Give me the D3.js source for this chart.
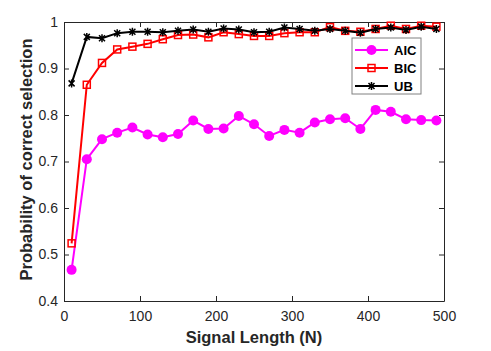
<!DOCTYPE html>
<html>
<head>
<meta charset="utf-8">
<script src="https://cdn.jsdelivr.net/npm/d3@7"></script>
<style>
  body { margin: 0; background: #fff; }
  svg { font-family: "Liberation Sans", Arial, sans-serif; }
</style>
</head>
<body>
<div id="chart"></div>
<script>
// signal lengths and selection probabilities per criterion
const signalLength = [10, 30, 50, 70, 90, 110, 130, 150, 170, 190, 210, 230, 250,
  270, 290, 310, 330, 350, 370, 390, 410, 430, 450, 470, 490];
const aic = [0.467, 0.705, 0.748, 0.762, 0.773, 0.758, 0.752, 0.759, 0.788, 0.770,
  0.771, 0.798, 0.780, 0.755, 0.768, 0.762, 0.784, 0.791, 0.793, 0.770, 0.811,
  0.807, 0.791, 0.789, 0.788];
const bic = [0.524, 0.865, 0.912, 0.941, 0.947, 0.953, 0.963, 0.972, 0.973, 0.967,
  0.978, 0.974, 0.970, 0.970, 0.976, 0.978, 0.978, 0.989, 0.981, 0.979, 0.985,
  0.992, 0.985, 0.992, 0.990];
const ub = [0.868, 0.968, 0.965, 0.976, 0.979, 0.979, 0.978, 0.981, 0.984, 0.979,
  0.986, 0.984, 0.978, 0.979, 0.988, 0.985, 0.981, 0.985, 0.981, 0.977, 0.985,
  0.988, 0.983, 0.990, 0.985];
const xTicks = [0, 100, 200, 300, 400, 500];
const yTicks = [0.4, 0.5, 0.6, 0.7, 0.8, 0.9, 1];

const W = 491, H = 351;
const margin = {top: 22, right: 47, bottom: 50, left: 64};
const width = W - margin.left - margin.right;
const height = H - margin.top - margin.bottom;

const svg = d3.select('#chart').append('svg')
  .attr('width', W).attr('height', H);
const g = svg.append('g')
  .attr('transform', `translate(${margin.left},${margin.top})`);

const x = d3.scaleLinear().domain([0, 500]).range([0, width]);
const y = d3.scaleLinear().domain([0.4, 1]).range([height, 0]);

const axisColor = '#262626';
const fmt = d => d === 1 ? '1' : d3.format('.1f')(d);

// axes with inward ticks (box style)
const xAxis = g.append('g').attr('transform', `translate(0,${height})`)
  .call(d3.axisBottom(x).tickValues(xTicks).tickSizeInner(-5).tickSizeOuter(0).tickPadding(10));
const xTop = g.append('g')
  .call(d3.axisTop(x).tickValues(xTicks).tickSizeInner(-5).tickSizeOuter(0).tickFormat(''));
const yAxis = g.append('g')
  .call(d3.axisLeft(y).tickValues(yTicks).tickSizeInner(-5).tickSizeOuter(0).tickPadding(6).tickFormat(fmt));
const yRight = g.append('g').attr('transform', `translate(${width},0)`)
  .call(d3.axisRight(y).tickValues(yTicks).tickSizeInner(-5).tickSizeOuter(0).tickFormat(''));

[xAxis, xTop, yAxis, yRight].forEach(a => {
  a.select('.domain').attr('stroke', axisColor).attr('stroke-width', 1);
  a.selectAll('.tick line').attr('stroke', axisColor);
  a.selectAll('.tick text').attr('fill', axisColor).style('font-size', '14px');
});

// axis labels
g.append('text')
  .attr('x', width / 2).attr('y', height + 42)
  .attr('text-anchor', 'middle')
  .style('font-size', '16.5px').style('font-weight', 'bold').attr('fill', axisColor)
  .text('Signal Length (N)');
g.append('text')
  .attr('transform', 'rotate(-90)')
  .attr('x', -height / 2 + 2).attr('y', -32)
  .attr('text-anchor', 'middle')
  .style('font-size', '16.5px').style('font-weight', 'bold').attr('fill', axisColor)
  .text('Probability of correct selection');

const series = [
  {name: 'AIC', values: aic, color: '#ff00ff', marker: 'circle'},
  {name: 'BIC', values: bic, color: '#ff0000', marker: 'square'},
  {name: 'UB', values: ub, color: '#000000', marker: 'star'},
];

function drawMarker(sel, type, color) {
  if (type === 'circle') {
    sel.append('circle').attr('r', 5).attr('fill', color);
  } else if (type === 'square') {
    sel.append('rect').attr('x', -3.5).attr('y', -3.5).attr('width', 7).attr('height', 7)
      .attr('fill', 'none').attr('stroke', color).attr('stroke-width', 1.5);
  } else {
    sel.append('path').attr('d', 'M-3,-3L3,3M-3,3L3,-3M0,-4L0,4')
      .attr('stroke', color).attr('stroke-width', 1.5).attr('fill', 'none');
  }
}

const line = d3.line().x(d => x(d[0])).y(d => y(d[1]));

series.forEach(s => {
  const pts = signalLength.map((n, i) => [n, s.values[i]]);
  g.append('path').datum(pts)
    .attr('d', line).attr('fill', 'none')
    .attr('stroke', s.color).attr('stroke-width', 2);
  g.selectAll(null).data(pts).enter().append('g')
    .attr('transform', d => `translate(${x(d[0])},${y(d[1])})`)
    .each(function() { drawMarker(d3.select(this), s.marker, s.color); });
});

// legend
const lg = g.append('g').attr('transform', `translate(${352 - margin.left},${38 - margin.top})`);
lg.append('rect').attr('width', 69).attr('height', 56)
  .attr('fill', '#fff').attr('stroke', '#808080').attr('stroke-width', 1);
series.forEach((s, i) => {
  const ly = 12 + i * 18;
  lg.append('line').attr('x1', 3).attr('x2', 36).attr('y1', ly).attr('y2', ly)
    .attr('stroke', s.color).attr('stroke-width', 2);
  drawMarker(lg.append('g').attr('transform', `translate(19.5,${ly})`), s.marker, s.color);
  lg.append('text').attr('x', 42).attr('y', ly + 5)
    .style('font-size', '13px').style('font-weight', 'bold').attr('fill', '#000')
    .text(s.name);
});
</script>
</body>
</html>
